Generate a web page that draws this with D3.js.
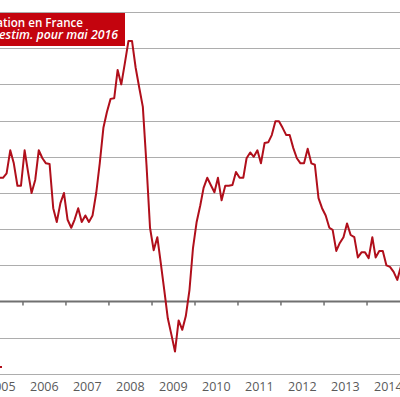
<!DOCTYPE html>
<meta charset="utf-8">
<style>
    body { margin: 0; background: #fff; }
    svg { display: block; }
    .grid line { stroke: #adadad; stroke-width: 1; }
    .zero { stroke: #707070; stroke-width: 2; }
    .tick-year { stroke: #707070; stroke-width: 1.5; }
    .year { font: 12.5px "Open Sans", sans-serif; fill: #5a5a5a; text-anchor: middle; }
    .title text { font-family: "Open Sans", sans-serif; fill: #fff; text-anchor: end; font-weight: 600; }
</style>

<svg width="400" height="397"></svg>
<script src="https://d3js.org/d3.v7.min.js"></script>

<script>
    // glissement annuel des prix, mensuel
    var months = [
        "2005-05", "2005-06", "2005-07", "2005-08", "2005-09", "2005-10", "2005-11", "2005-12",
        "2006-01", "2006-02", "2006-03", "2006-04", "2006-05", "2006-06", "2006-07", "2006-08", "2006-09", "2006-10", "2006-11", "2006-12",
        "2007-01", "2007-02", "2007-03", "2007-04", "2007-05", "2007-06", "2007-07", "2007-08", "2007-09", "2007-10", "2007-11", "2007-12",
        "2008-01", "2008-02", "2008-03", "2008-04", "2008-05", "2008-06", "2008-07", "2008-08", "2008-09", "2008-10", "2008-11", "2008-12",
        "2009-01", "2009-02", "2009-03", "2009-04", "2009-05", "2009-06", "2009-07", "2009-08", "2009-09", "2009-10", "2009-11", "2009-12",
        "2010-01", "2010-02", "2010-03", "2010-04", "2010-05", "2010-06", "2010-07", "2010-08", "2010-09", "2010-10", "2010-11", "2010-12",
        "2011-01", "2011-02", "2011-03", "2011-04", "2011-05", "2011-06", "2011-07", "2011-08", "2011-09", "2011-10", "2011-11", "2011-12",
        "2012-01", "2012-02", "2012-03", "2012-04", "2012-05", "2012-06", "2012-07", "2012-08", "2012-09", "2012-10", "2012-11", "2012-12",
        "2013-01", "2013-02", "2013-03", "2013-04", "2013-05", "2013-06", "2013-07", "2013-08", "2013-09", "2013-10", "2013-11", "2013-12",
        "2014-01", "2014-02", "2014-03", "2014-04", "2014-05", "2014-06", "2014-07", "2014-08", "2014-09", "2014-10", "2014-11"
    ];
    var inflation = [
        1.71, 1.71, 1.71, 1.77, 2.09, 1.91, 1.60, 1.60,
        2.09, 1.77, 1.50, 1.68, 2.09, 1.98, 1.91, 1.90, 1.29, 1.10, 1.36, 1.50,
        1.13, 1.02, 1.13, 1.29, 1.10, 1.19, 1.10, 1.19, 1.50, 1.91, 2.40, 2.62,
        2.80, 2.81, 3.20, 3.00, 3.29, 3.60, 3.60, 3.23, 2.95, 2.69, 1.89, 1.02,
        0.71, 0.89, 0.55, 0.16, -0.23, -0.46, -0.69, -0.26, -0.39, -0.20, 0.16, 0.74,
        1.10, 1.33, 1.57, 1.71, 1.61, 1.51, 1.71, 1.40, 1.60, 1.60, 1.61, 1.79,
        1.71, 1.71, 1.98, 2.06, 2.00, 2.09, 1.91, 2.19, 2.20, 2.30, 2.49, 2.49,
        2.40, 2.30, 2.30, 2.12, 1.98, 1.91, 1.91, 2.11, 1.91, 1.89, 1.43, 1.29,
        1.19, 1.02, 0.99, 0.70, 0.81, 0.89, 1.08, 0.92, 0.89, 0.61, 0.68, 0.68,
        0.60, 0.89, 0.61, 0.70, 0.70, 0.50, 0.48, 0.41, 0.30, 0.48, 0.30
    ];
    var yearLabels = ["2005", "2006", "2007", "2008", "2009", "2010", "2011", "2012", "2013", "2014"];
    var gridValues = [-1, -0.5, 0.5, 1, 1.5, 2, 2.5, 3, 3.5, 4];
    var titleLines = ["Taux d'inflation en France", "dernier point estim. pour mai 2016"];

    var svg = d3.select("svg"),
        width = +svg.attr("width");

    var parseMonth = d3.timeParse("%Y-%m");
    var x = d3.scaleTime()
        .domain([new Date(2005, 0, 1), new Date(2015, 0, 1)])
        .range([-20, 410]);
    var y = d3.scaleLinear()
        .domain([-1, 4])
        .range([374, 12]);

    var data = months.map(function (m, i) {
        var d = parseMonth(m);
        return { date: new Date(d.getFullYear(), d.getMonth(), 15), value: inflation[i] };
    });

    // grille horizontale
    svg.append("g").attr("class", "grid")
        .selectAll("line")
        .data(gridValues)
        .enter().append("line")
        .attr("x1", 0).attr("x2", width)
        .attr("y1", function (d) { return Math.round(y(d)) + 0.5; })
        .attr("y2", function (d) { return Math.round(y(d)) + 0.5; });

    svg.append("line").attr("class", "zero")
        .attr("x1", 0).attr("x2", width)
        .attr("y1", y(0)).attr("y2", y(0));

    // graduations annuelles
    var years = d3.range(2005, 2016);
    svg.selectAll(".tick-year")
        .data(years)
        .enter().append("line")
        .attr("class", "tick-year")
        .attr("x1", function (d) { return x(new Date(d, 0, 1)); })
        .attr("x2", function (d) { return x(new Date(d, 0, 1)); })
        .attr("y1", y(0))
        .attr("y2", y(0) + 4);

    svg.selectAll(".year")
        .data(yearLabels)
        .enter().append("text")
        .attr("class", "year")
        .attr("x", function (d) { return x(new Date(+d, 6, 1)); })
        .attr("y", 391)
        .text(function (d) { return d; });

    // courbe
    var line = d3.line()
        .x(function (d) { return x(d.date); })
        .y(function (d) { return y(d.value); });

    svg.append("path")
        .datum(data)
        .attr("fill", "none")
        .attr("stroke", "#b00f1b")
        .attr("stroke-width", 2)
        .attr("stroke-linejoin", "round")
        .attr("d", line);

    // morceau de légende, coupé à gauche
    svg.append("line")
        .attr("x1", -10).attr("x2", 2)
        .attr("y1", 367).attr("y2", 367)
        .attr("stroke", "#b00f1b").attr("stroke-width", 2);

    // cartouche titre
    var title = svg.append("g").attr("class", "title");
    title.append("rect")
        .attr("x", -220).attr("y", 13)
        .attr("width", 345).attr("height", 33)
        .attr("fill", "#c4040e");
    title.append("text")
        .attr("x", 83).attr("y", 26.5)
        .style("font-size", "11.6px")
        .text(titleLines[0]);
    title.append("text")
        .attr("x", 118).attr("y", 38.5)
        .style("font-size", "12.3px")
        .style("font-style", "italic")
        .text(titleLines[1]);
</script>
